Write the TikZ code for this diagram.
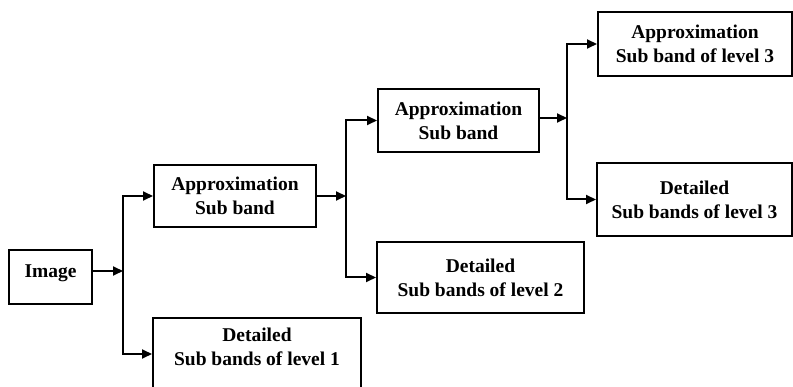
\documentclass[tikz,border=0pt]{standalone}
\usepackage{fontspec}
\setmainfont{Liberation Serif}
\usetikzlibrary{arrows.meta}
\begin{document}
\begin{tikzpicture}[x=1pt,y=-1pt,
  box/.style={draw, line width=2pt, rectangle, inner sep=0pt, align=center,
    font=\fontsize{19.5}{24}\selectfont\bfseries},
  wire/.style={line width=2pt},
  conn/.style={line width=2pt, -{Triangle[length=10pt,width=9pt]}}]
\useasboundingbox (0,0) rectangle (793,387);
\fill[white] (0,0) rectangle (793,387);
\node[box, minimum width=83pt, minimum height=54pt, text depth=12pt] (img) at (50.5,277) {Image};
\node[box, minimum width=162pt, minimum height=62pt] (a1) at (235,196) {Approximation\\Sub band};
\node[box, minimum width=208pt, minimum height=72pt, text depth=14pt] (d1) at (257,354) {Detailed\\Sub bands of level 1};
\node[box, minimum width=161pt, minimum height=63pt] (a2) at (458.5,120.5) {Approximation\\Sub band};
\node[box, minimum width=207pt, minimum height=71pt] (d2) at (480.5,277.5) {Detailed\\Sub bands of level 2};
\node[box, minimum width=194pt, minimum height=64pt] (a3) at (695,44) {Approximation\\Sub band of level 3};
\node[box, minimum width=195pt, minimum height=73pt] (d3) at (694.5,199.5) {Detailed\\Sub bands of level 3};
\coordinate (j1) at (123,271);
\coordinate (j2) at (346,196);
\coordinate (j3) at (567,118);
\draw[conn] (img.east |- j1) -- (j1);
\draw[conn] (j1) |- (a1.west);
\draw[conn] (j1) |- (d1.west);
\draw[conn] (a1.east |- j2) -- (j2);
\draw[conn] (j2) |- (a2.west);
\draw[conn] (j2) |- (d2.west);
\draw[conn] (a2.east |- j3) -- (j3);
\draw[conn] (j3) |- (a3.west);
\draw[conn] (j3) |- (d3.west);
\end{tikzpicture}
\end{document}
